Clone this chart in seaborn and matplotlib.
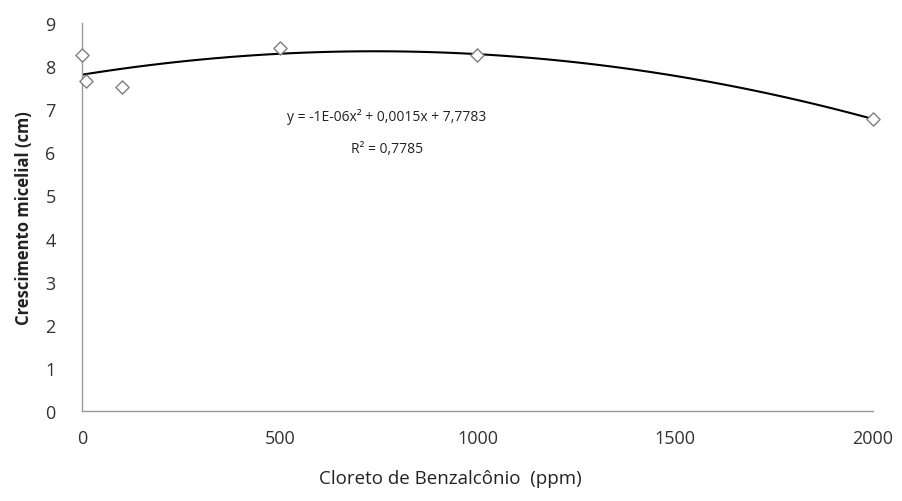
import matplotlib
matplotlib.use("Agg")
import matplotlib.pyplot as plt
import seaborn as sns
import pandas as pd

# concentration (ppm) and mycelial growth (cm)
concentracao = [0, 10, 100, 500, 1000, 2000]
crescimento = [8.26, 7.66, 7.52, 8.42, 8.26, 6.77]
equacao = "y = -1E-06x² + 0,0015x + 7,7783"
r2_texto = "R² = 0,7785"

df = pd.DataFrame({"x": concentracao, "y": crescimento})

sns.set_style("white")
plt.rcParams["font.family"] = ["Open Sans", "DejaVu Sans"]

fig = plt.figure(figsize=(9.03, 5.02), dpi=100)
ax = fig.add_axes([82 / 903, 90 / 502, 791 / 903, 388 / 502])

# quadratic trend line
sns.regplot(data=df, x="x", y="y", order=2, ci=None, scatter=False,
            line_kws={"color": "black", "lw": 1.5}, ax=ax)
sns.scatterplot(data=df, x="x", y="y", marker="D", s=45, facecolor="white",
                edgecolor="#7f7f7f", linewidth=1.0, zorder=3, clip_on=False, ax=ax)

ax.set_xlim(0, 2000)
ax.set_ylim(0, 9)
ax.set_xticks([0, 500, 1000, 1500, 2000])
ax.set_yticks(range(0, 10))
ax.tick_params(axis="both", length=0, labelsize=13, colors="#333333")
ax.tick_params(axis="y", pad=19)
ax.tick_params(axis="x", pad=13)

for side in ["top", "right"]:
    ax.spines[side].set_visible(False)
for side in ["left", "bottom"]:
    ax.spines[side].set_color("#9a9a9a")
    ax.spines[side].set_linewidth(1.0)

ax.set_xlabel("Cloreto de Benzalcônio  (ppm)", fontsize=13.5, color="#222222")
ax.xaxis.set_label_coords(0.466, -0.15)
ax.set_ylabel("Crescimento micelial (cm)", fontsize=12, fontweight="bold",
              color="#222222")
ax.yaxis.set_label_coords(-0.062, 0.5)

ax.text(771, 6.84, equacao, ha="center", va="center", fontsize=10, color="#222222")
ax.text(771, 6.08, r2_texto, ha="center", va="center", fontsize=10, color="#222222")

fig.savefig("out.png", dpi=100)
